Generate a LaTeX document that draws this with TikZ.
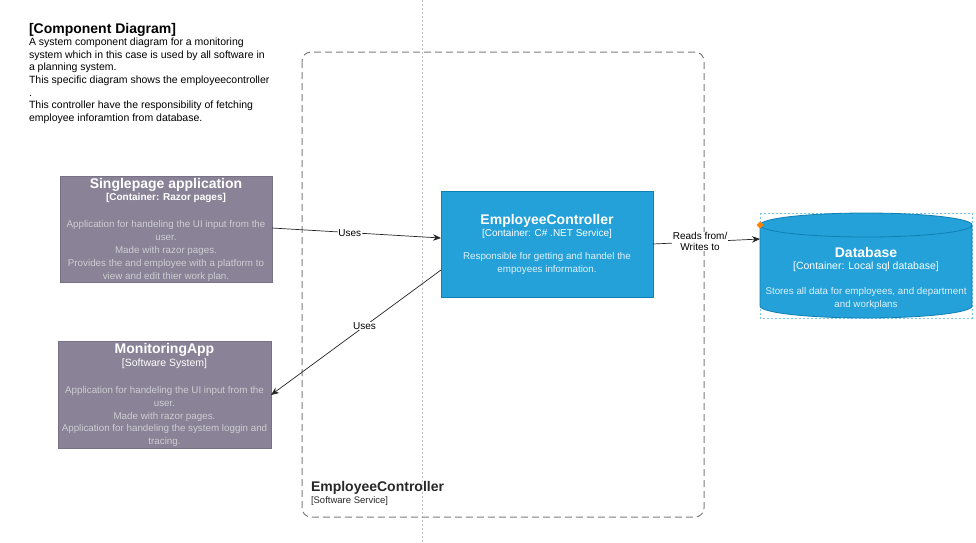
\documentclass[tikz,border=0pt]{standalone}
\usepackage{fontspec}
\setmainfont{Liberation Sans}
\usetikzlibrary{arrows.meta,calc}
\definecolor{boxpurple}{RGB}{138,130,150}
\definecolor{boxpurpleline}{RGB}{120,112,132}
\definecolor{descpurple}{RGB}{205,205,210}
\definecolor{boxblue}{RGB}{35,161,216}
\definecolor{boxblueline}{RGB}{16,128,180}
\definecolor{descblue}{RGB}{225,240,250}
\definecolor{frame}{RGB}{125,125,125}
\definecolor{darktext}{RGB}{40,40,40}
\definecolor{selblue}{RGB}{120,200,240}
\begin{document}
\begin{tikzpicture}[x=1pt,y=-1pt,
  every node/.style={inner sep=0pt,outer sep=0pt},
  purplebox/.style={draw=boxpurpleline,fill=boxpurple,line width=0.8pt,anchor=north west},
  bluebox/.style={draw=boxblueline,fill=boxblue,line width=0.8pt,anchor=north west},
  ttl/.style={font=\bfseries\fontsize{14}{16}\selectfont,text=white},
  sub/.style={font=\fontsize{10}{12}\selectfont},
  desc/.style={font=\fontsize{9.8}{12.8}\selectfont,align=center},
  rel/.style={draw=black!85,line width=0.7pt,-{Stealth[length=8pt,width=6.5pt]}},
  rellabel/.style={fill=white,font=\fontsize{10}{11}\selectfont,align=center,inner sep=0.5pt}
]
\useasboundingbox (0,0) rectangle (976,542);
\fill[white] (0,0) rectangle (976,542);
% page break line
\draw[black!25,dash pattern=on 2pt off 2pt,line width=0.6pt] (422,0) -- (422,542);
% container boundary
\draw[frame,dash pattern=on 7pt off 4pt,line width=1pt,rounded corners=9pt] (302,52) rectangle (704,517);
\node[anchor=west,font=\bfseries\fontsize{14}{16}\selectfont,text=darktext] (cttl) at (311,488) {EmployeeController};
\node[anchor=west,font=\fontsize{9.5}{11}\selectfont,text=darktext] (csub) at (311,501) {[Software Service]};

% title block
\node[anchor=west,font=\bfseries\fontsize{14}{16}\selectfont] (title) at (29,30) {[Component Diagram]};
\node[anchor=north west,align=left,font=\fontsize{10.5}{12.6}\selectfont] (intro) at (29,38) {A system component diagram for a monitoring\\system which in this case is used by all software in\\a planning system.\\This specific diagram shows the employeecontroller\\.\\This controller have the responsibility of fetching\\employee inforamtion from database.};

% Singlepage application
\node[purplebox,minimum width=212pt,minimum height=106pt] (spa) at (60,176) {};
\node[ttl] (spat) at (166,185) {Singlepage application};
\node[sub,font=\bfseries\fontsize{10}{12}\selectfont,text=white] (spas) at (166,198) {[Container: Razor pages]};
\node[desc,text=descpurple] (spad) at (166,251) {Application for handeling the UI input from the\\user.\\Made with razor pages.\\Provides the and employee with a platform to\\view and edit thier work plan.};

% MonitoringApp
\node[purplebox,minimum width=213pt,minimum height=107pt] (ma) at (58,341) {};
\node[ttl] (mat) at (164.5,350) {MonitoringApp};
\node[sub,font=\fontsize{10.5}{12}\selectfont,text=white] (mas) at (164.5,364) {[Software System]};
\node[desc,text=descpurple] (mad) at (164.5,416.5) {Application for handeling the UI input from the\\user.\\Made with razor pages.\\Application for handeling the system loggin and\\tracing.};

% EmployeeController
\node[bluebox,minimum width=212pt,minimum height=106pt] (ec) at (441,191) {};
\node[ttl] (ect) at (547,221) {EmployeeController};
\node[sub,text=white] (ecs) at (547,234) {[Container: C\# .NET Service]};
\node[desc,text=descblue] (ecd) at (547,263.5) {Responsible for getting and handel the\\empoyees information.};

% Database cylinder
\draw[selblue,dash pattern=on 2pt off 2pt,line width=0.7pt] (760,213) rectangle (972,318);
\filldraw[fill=boxblue,draw=boxblueline,line width=0.8pt]
  (760,225) -- (760,306) arc[start angle=180,end angle=360,x radius=106,y radius=-12]
  -- (972,225) arc[start angle=0,end angle=180,x radius=106,y radius=-12] -- cycle;
\draw[boxblueline,line width=0.8pt] (760,225) arc[start angle=180,end angle=360,x radius=106,y radius=-12];
\fill[orange] (760,221.5) -- (763.5,225) -- (760,228.5) -- (756.5,225) -- cycle;
\node[ttl] (dbt) at (866,252) {Database};
\node[sub,font=\fontsize{10.5}{12}\selectfont,text=white] (dbs) at (866,267) {[Container: Local sql database]};
\node[desc,text=descblue] (dbd) at (866,298.5) {Stores all data for employees, and department\\and workplans};

% connectors
\coordinate (a1s) at ($(spa.east)+(0,-1)$);
\coordinate (a1e) at ($(ec.west)+(0,-6)$);
\draw[rel] (a1s) -- node[rellabel,pos=0.46] (l1) {Uses} (a1e);
\coordinate (a2s) at ($(ec.west)+(0,26)$);
\coordinate (a2e) at ($(ma.east)+(0,0.5)$);
\draw[rel] (a2s) -- node[rellabel,pos=0.45] (l2) {Uses} (a2e);
\coordinate (a3s) at ($(ec.east)+(0,0)$);
\coordinate (a3e) at (760,239);
\draw[rel] (a3s) -- node[rellabel,pos=0.44] (l3) {Reads from/\\Writes to} (a3e);
\end{tikzpicture}
\end{document}
